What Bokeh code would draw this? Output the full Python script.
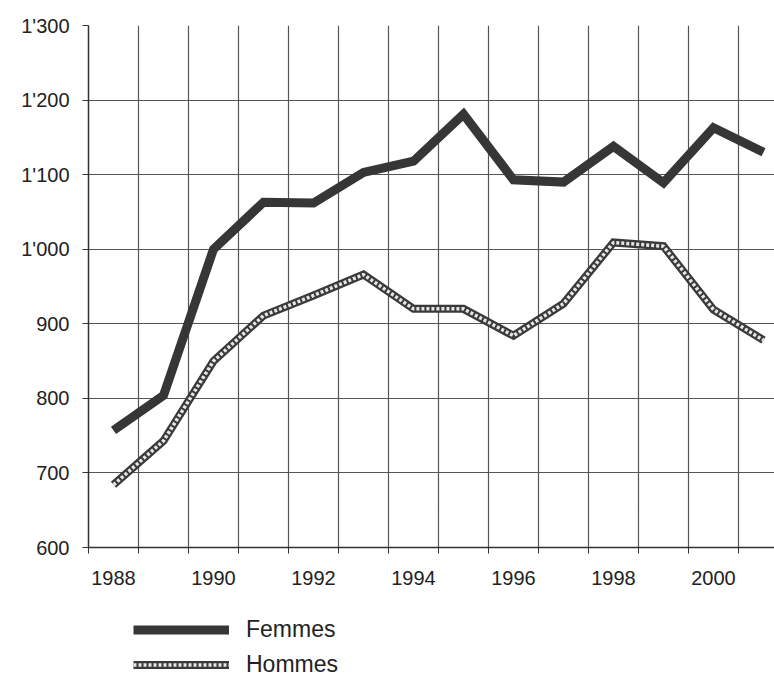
from bokeh.plotting import figure
from bokeh.layouts import column
from bokeh.models import FixedTicker, Legend, LegendItem, Range1d
from bokeh.embed import file_html
from bokeh.resources import INLINE

years = list(range(1988, 2002))
femmes = [757, 804, 1000, 1063, 1062, 1103, 1118, 1181, 1093, 1090, 1138, 1089, 1163, 1130]
hommes = [684, 743, 850, 911, 938, 966, 920, 920, 884, 927, 1009, 1004, 919, 878]

y_ticks = [600, 700, 800, 900, 1000, 1100, 1200, 1300]
y_tick_labels = ["600", "700", "800", "900", "1'000", "1'100", "1'200", "1'300"]
x_label_years = [1988, 1990, 1992, 1994, 1996, 1998, 2000]
x_tick_labels = ["1988", "1990", "1992", "1994", "1996", "1998", "2000"]
series_names = ["Femmes", "Hommes"]

FONT = "Liberation Sans"
FEM_STYLE = dict(line_color="#363636", line_width=9, line_join="miter")
HOM_OUTER = dict(line_color="#3a3a3a", line_width=8, line_join="miter")
HOM_INNER = dict(line_color="#e6e6e6", line_width=3.5, line_dash="3 2")

boundaries = [y - 0.5 for y in years] + [years[-1] + 0.5]

p = figure(width=774, height=593, output_backend="svg", toolbar_location=None,
           x_range=Range1d(1987.5, 2001.22), y_range=Range1d(600, 1300),
           min_border_left=88, min_border_right=0, min_border_top=25, min_border_bottom=46)
p.outline_line_color = None
p.background_fill_color = "white"

# grid
p.xgrid.ticker = FixedTicker(ticks=boundaries)
p.ygrid.ticker = FixedTicker(ticks=y_ticks)
for g in (p.xgrid, p.ygrid):
    g.grid_line_color = "#555555"
    g.grid_line_width = 1.2

# y axis
p.yaxis.ticker = FixedTicker(ticks=y_ticks)
p.yaxis.major_label_overrides = {t: l for t, l in zip(y_ticks, y_tick_labels)}
p.yaxis.major_tick_out = 6
p.yaxis.major_tick_in = 0
p.yaxis.minor_tick_line_color = None
p.yaxis.major_label_standoff = 13

# x axis
p.xaxis.ticker = FixedTicker(ticks=x_label_years, minor_ticks=boundaries)
p.xaxis.major_label_overrides = {t: l for t, l in zip(x_label_years, x_tick_labels)}
p.xaxis.major_tick_out = 0
p.xaxis.major_tick_in = 0
p.xaxis.minor_tick_out = 6
p.xaxis.minor_tick_in = 0
p.xaxis.major_label_standoff = 17

for ax in (p.xaxis, p.yaxis):
    ax.axis_line_color = "#333333"
    ax.axis_line_width = 1.5
    ax.major_tick_line_color = "#333333"
    ax.minor_tick_line_color = "#333333"
    ax.major_label_text_font = FONT
    ax.major_label_text_font_size = "20px"
    ax.major_label_text_color = "#222222"

p.line(years, femmes, **FEM_STYLE)
p.line(years, hommes, **HOM_OUTER)
p.line(years, hommes, **HOM_INNER)

# legend panel below the chart (series drawn out of view, only legend visible)
lg = figure(width=774, height=85, output_backend="svg", toolbar_location=None,
            x_range=Range1d(0, 1), y_range=Range1d(0, 1),
            x_axis_location=None, y_axis_location=None,
            min_border_left=0, min_border_right=0, min_border_top=0, min_border_bottom=0)
lg.grid.visible = False
lg.outline_line_color = None
lf = lg.line(years, femmes, **FEM_STYLE)
lh1 = lg.line(years, hommes, **HOM_OUTER)
lh2 = lg.line(years, hommes, **HOM_INNER)

legend = Legend(items=[LegendItem(label=series_names[0], renderers=[lf]),
                       LegendItem(label=series_names[1], renderers=[lh1, lh2])],
                location=(45, 0), orientation="vertical",
                glyph_width=96, glyph_height=23, label_height=23, label_standoff=17,
                spacing=8, padding=0, margin=0,
                border_line_alpha=0, background_fill_alpha=0,
                label_text_font=FONT, label_text_font_size="23px", label_text_color="#222222")
lg.add_layout(legend, "center")

layout = column(p, lg, spacing=0)
open("out.html", "w").write(file_html(layout, INLINE))
